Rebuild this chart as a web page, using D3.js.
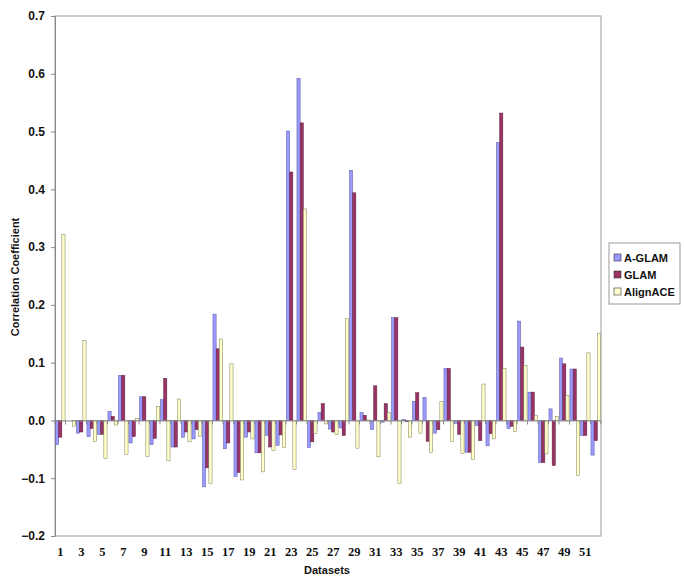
<!DOCTYPE html>
<html><head><meta charset="utf-8">
<script src="https://cdn.jsdelivr.net/npm/d3@7"></script>
<style>body{margin:0;background:#fff}text{font-family:"Liberation Sans",Arial,sans-serif;font-weight:bold}</style>
</head><body><svg id="c" width="685" height="578"></svg>
<script>
const datasets = d3.range(1, 53);
const seriesNames = ["A-GLAM", "GLAM", "AlignACE"];
const aglam = [-0.042,0,-0.022,-0.028,-0.024,0.016,0.078,-0.039,0.041,-0.042,0.036,-0.046,-0.029,-0.032,-0.115,0.184,-0.049,-0.097,-0.029,-0.056,-0.026,-0.043,0.501,0.592,-0.047,0.014,-0.015,-0.013,0.433,0.014,-0.016,-0.003,0.178,0.002,0.033,0.040,-0.022,0.090,-0.005,-0.055,-0.009,-0.044,0.481,-0.014,0.172,0.049,-0.073,0.020,0.108,0.089,-0.026,-0.060];
const glam = [-0.029,0,-0.020,-0.014,-0.024,0.007,0.078,-0.028,0.041,-0.031,0.073,-0.046,-0.020,-0.016,-0.082,0.124,-0.039,-0.090,-0.020,-0.056,-0.046,-0.025,0.430,0.515,-0.037,0.029,-0.020,-0.026,0.394,0.009,0.060,0.029,0.178,-0.002,0.048,-0.036,-0.016,0.090,-0.024,-0.055,-0.035,-0.023,0.532,-0.010,0.127,0.049,-0.073,-0.078,0.098,0.089,-0.026,-0.035];
const alignace = [0.322,-0.010,0.138,-0.036,-0.066,-0.008,-0.059,0.003,-0.062,0.024,-0.070,0.037,-0.037,-0.028,-0.109,0.141,0.098,-0.103,-0.032,-0.089,-0.052,-0.047,-0.085,0.366,-0.023,-0.006,-0.024,0.176,-0.048,0.001,-0.063,0.014,-0.109,-0.029,-0.022,-0.055,0.033,-0.036,-0.057,-0.068,0.063,-0.032,0.090,-0.019,0.095,0.009,-0.058,0.007,0.043,-0.095,0.117,0.151];
const yTicks = [0.7,0.6,0.5,0.4,0.3,0.2,0.1,0,-0.1,-0.2];
const colors = ["#9999ff", "#993366", "#ffffcc"];
const strokes = ["#5a5aa0", "#5a1f3c", "#7a7a55"];
const values = [aglam, glam, alignace];

const svg = d3.select("#c");
const L = 55, R = 601, T = 16, B = 536;
const x = d3.scaleBand().domain(datasets).range([L, R]).paddingInner(0).paddingOuter(0);
const xs = d3.scaleBand().domain(seriesNames).range([0, x.bandwidth()]).paddingInner(0).paddingOuter(0.14);
const y = d3.scaleLinear().domain([-0.2, 0.7]).range([B, T]);

// plot frame
svg.append("rect").attr("x", L).attr("y", T).attr("width", R - L).attr("height", B - T)
  .attr("fill", "none").attr("stroke", "#999").attr("stroke-width", 1);

// y axis
const ya = svg.append("g").attr("transform", `translate(${L},0)`)
  .call(d3.axisLeft(y).tickValues(yTicks).tickSize(4).tickPadding(6).tickFormat(d3.format(".1f")));
ya.select(".domain").attr("stroke", "#888");
ya.selectAll(".tick line").attr("stroke", "#888");
ya.selectAll("text").style("font-size", "12px").attr("fill", "#111");

// bars
seriesNames.forEach((s, i) => {
  svg.append("g").selectAll("rect").data(datasets).join("rect")
    .attr("x", d => x(d) + xs(s))
    .attr("width", xs.bandwidth())
    .attr("y", (d, j) => y(Math.max(0, values[i][j])))
    .attr("height", (d, j) => Math.abs(y(values[i][j]) - y(0)))
    .attr("fill", colors[i]).attr("stroke", strokes[i]).attr("stroke-width", 0.5);
});

// zero axis with ticks
const xa = svg.append("g").attr("transform", `translate(0,${y(0)})`)
  .call(d3.axisBottom(x).tickValues([]).tickSize(0));
xa.select(".domain").attr("stroke", "#888");
svg.append("g").selectAll("line").data(datasets.concat([53])).join("line")
  .attr("x1", d => d <= 52 ? x(d) : R).attr("x2", d => d <= 52 ? x(d) : R)
  .attr("y1", y(0)).attr("y2", y(0) + 4).attr("stroke", "#888");

// category labels at bottom
svg.append("g").selectAll("text").data(datasets.filter(d => d % 2 === 1)).join("text")
  .attr("x", d => x(d) + x.bandwidth() / 2).attr("y", 556)
  .attr("text-anchor", "middle").attr("fill", "#111")
  .style("font-family", "'Liberation Serif', 'Times New Roman', serif").style("font-size", "12.5px")
  .text(d => d);

// axis titles
svg.append("text").attr("x", 327).attr("y", 574).attr("text-anchor", "middle")
  .style("font-size", "11px").attr("fill", "#111").text("Datasets");
svg.append("text").attr("transform", "translate(19,277) rotate(-90)").attr("text-anchor", "middle")
  .style("font-size", "11px").attr("fill", "#111").text("Correlation Coefficient");

// legend
const lg = svg.append("g").attr("transform", "translate(609,243)");
lg.append("rect").attr("width", 71).attr("height", 61).attr("fill", "#fff").attr("stroke", "#999");
seriesNames.forEach((s, i) => {
  lg.append("rect").attr("x", 5).attr("y", 11 + i * 17).attr("width", 7).attr("height", 7)
    .attr("fill", colors[i]).attr("stroke", "#333").attr("stroke-width", 0.6);
  lg.append("text").attr("x", 15).attr("y", 19 + i * 17).style("font-size", "11px").attr("fill", "#111").text(s);
});
</script></body></html>
